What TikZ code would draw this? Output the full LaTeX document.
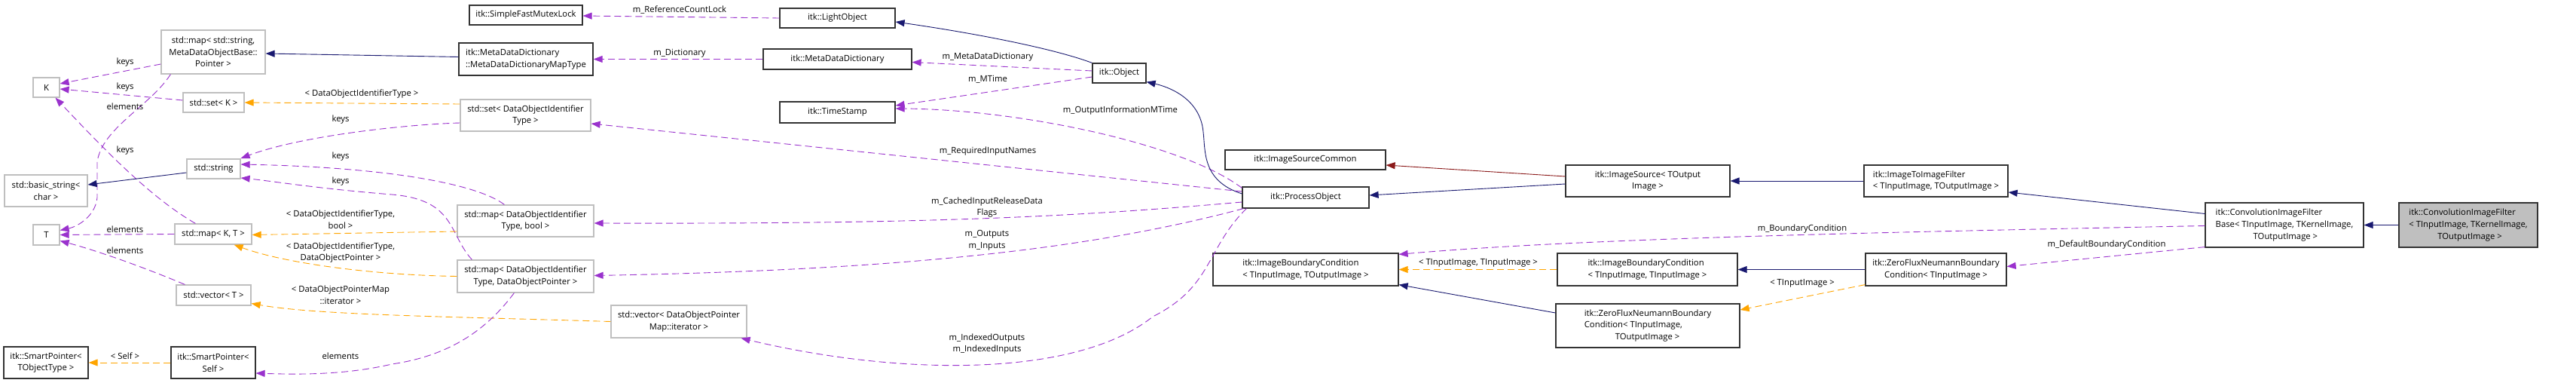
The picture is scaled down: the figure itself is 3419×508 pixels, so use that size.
\documentclass[tikz,border=0pt]{standalone}
\usepackage{fontspec}
\setmainfont{Open Sans}
\usetikzlibrary{arrows.meta, calc}
\definecolor{inhblue}{HTML}{191970}
\definecolor{privred}{HTML}{8B1A1A}
\definecolor{usepurple}{HTML}{9A32CD}
\definecolor{tmplorange}{HTML}{FFA500}
\definecolor{extgray}{HTML}{BFBFBF}
\definecolor{rootgray}{HTML}{BFBFBF}

\begin{document}
\begin{tikzpicture}[
  % pixel grid of the diagram, y runs downwards
  x=1pt, y=-1pt,
  font=\fontsize{11.3pt}{15.7pt}\selectfont,
  % box styles
  clsbox/.style={draw=black!80, fill=white, line width=1.2pt, inner sep=1pt, align=center},
  extbox/.style={clsbox, draw=extgray},
  rootbox/.style={clsbox, fill=rootgray},
  wh/.style 2 args={minimum width=#1pt, minimum height=#2pt},
  % connector styles
  inherit/.style={-{Triangle[length=12pt,width=9pt]}, draw=inhblue, line width=0.9pt},
  privinh/.style={inherit, draw=privred},
  usage/.style={-{Triangle[length=12pt,width=9pt]}, draw=usepurple, line width=0.9pt,
    dash pattern=on 9pt off 5pt},
  templ/.style={usage, draw=tmplorange},
  lbl/.style={inner sep=0pt, align=center}
]

\path[use as bounding box, fill=white] (0,0) rectangle (3419,508);

% ─── std containers and helpers (left part) ────────────────────────────────
\node[extbox, wh={35}{26}] (K) at (61.5,116) {K};
\node[extbox, wh={35}{27}] (T) at (61.5,311.5) {T};
\node[extbox, wh={110}{42}] (bstr) at (61,253) {std::basic\_string<\\char >};
\node[clsbox, wh={112}{42}] (spobj) at (61,481) {itk::SmartPointer<\\TObjectType >};

\node[extbox, wh={138}{58}] (mapstr) at (283,69)
  {std::map< std::string,\\MetaDataObjectBase::\\Pointer >};
\node[extbox, wh={81}{26}] (setk) at (283.5,136) {std::set< K >};
\node[extbox, wh={71}{26}] (str) at (283.5,224) {std::string};
\node[extbox, wh={102}{27}] (mapkt) at (283,310.5) {std::map< K, T >};
\node[extbox, wh={99}{27}] (vect) at (283.5,391.5) {std::vector< T >};
\node[clsbox, wh={112}{42}] (spself) at (283,481) {itk::SmartPointer<\\Self >};

% ─── second column ──────────────────────────────────────────────────────────
\node[clsbox, wh={150}{26}] (sfml) at (698,20) {itk::SimpleFastMutexLock};
\node[clsbox, wh={178}{43}, align=left] (mdmap) at (698,78.5)
  {itk::MetaDataDictionary\\::MetaDataDictionaryMapType};
\node[extbox, wh={173}{42}] (setdoi) at (697.5,153)
  {std::set< DataObjectIdentifier\\Type >};
\node[extbox, wh={181}{42}] (mapbool) at (697.5,293)
  {std::map< DataObjectIdentifier\\Type, bool >};
\node[extbox, wh={181}{43}] (mapdop) at (697.5,366.5)
  {std::map< DataObjectIdentifier\\Type, DataObjectPointer >};
\node[extbox, wh={180}{43}] (vecdop) at (901,426.5)
  {std::vector< DataObjectPointer\\Map::iterator >};

% ─── object core ────────────────────────────────────────────────────────────
\node[clsbox, wh={153}{26}] (light) at (1111.5,24) {itk::LightObject};
\node[clsbox, wh={197}{27}] (mdd) at (1111.5,78.5) {itk::MetaDataDictionary};
\node[clsbox, wh={153}{28}] (tstamp) at (1111.5,149) {itk::TimeStamp};
\node[clsbox, wh={71}{26}] (obj) at (1485.5,97) {itk::Object};
\node[clsbox, wh={213}{26}] (isc) at (1732.5,212) {itk::ImageSourceCommon};
\node[clsbox, wh={168}{28}] (po) at (1733,262) {itk::ProcessObject};
\node[clsbox, wh={246}{43}, align=left] (ibc) at (1733,357.5)
  {itk::ImageBoundaryCondition\\< TInputImage, TOutputImage >};

% ─── filters and boundary conditions (right part) ──────────────────────────
\node[clsbox, wh={218}{42}] (isrc) at (2187,240) {itk::ImageSource< TOutput\\Image >};
\node[clsbox, wh={239}{43}, align=left] (ibcin) at (2186.5,357.5)
  {itk::ImageBoundaryCondition\\< TInputImage, TInputImage >};
\node[clsbox, wh={244}{58}, align=left] (zfio) at (2187,432)
  {itk::ZeroFluxNeumannBoundary\\Condition< TInputImage,\\\hspace*{41pt}TOutputImage >};
\node[clsbox, wh={191}{42}, align=left] (i2i) at (2569.5,240)
  {itk::ImageToImageFilter\\< TInputImage, TOutputImage >};
\node[clsbox, wh={187}{43}] (zfin) at (2569.5,357.5)
  {itk::ZeroFluxNeumannBoundary\\Condition< TInputImage >};
\node[clsbox, wh={210}{59}, align=left] (cbase) at (3032,298.5)
  {itk::ConvolutionImageFilter\\Base< TInputImage, TKernelImage,\\\hspace*{50pt}TOutputImage >};
\node[rootbox, wh={184}{59}, align=left] (conv) at (3276,298.5)
  {itk::ConvolutionImageFilter\\< TInputImage, TKernelImage,\\\hspace*{38pt}TOutputImage >};

% ─── connectors: left part ─────────────────────────────────────────────────
\draw[usage] ($(mapstr.west)+(0,16)$) -- ($(K.east)+(0,-5)$);
\node[lbl] (l_keys_a) at (166,83) {keys};
\draw[usage] ($(mapstr.south west)+(13,0)$) .. controls (200,140) and (135,170) .. (129,215)
  -- (129,262) .. controls (127,285) and (105,300) .. ($(T.east)+(0,-6)$);
\node[lbl] (l_elem_a) at (166,141) {elements};
\draw[usage] ($(setk.west)+(0,-3)$) -- ($(K.east)+(0,2)$);
\node[lbl] (l_keys_b) at (166,116) {keys};
\draw[usage] ($(mapkt.north west)+(28,0)$) .. controls (200,262) and (140,200) .. ($(K.south)+(12,0)$);
\node[lbl] (l_keys_c) at (166,200) {keys};
\draw[usage] (mapkt.west) -- (T.east);
\node[lbl] (l_elem_b) at (166,304) {elements};
\draw[usage] ($(vect.north west)+(12,0)$) .. controls (180,350) and (120,330) .. ($(T.east)+(0,8)$);
\node[lbl] (l_elem_c) at (166,332) {elements};
\draw[inherit] ($(str.west)+(0,5)$) -- ($(bstr.east)+(0,-8)$);
\draw[templ] (spself.west) -- (spobj.east);
\node[lbl] (l_self) at (166,472) {< Self >};

% ─── connectors: second column ─────────────────────────────────────────────
\draw[templ] ($(setdoi.west)+(0,-15)$) -- (setk.east);
\node[lbl] (l_doit) at (480,125) {< DataObjectIdentifierType >};
\draw[usage] ($(setdoi.west)+(0,10)$) .. controls (540,165) and (400,180) .. ($(str.east)+(0,-14)$);
\node[lbl] (l_keys_d) at (452,159) {keys};
\draw[usage] ($(mapbool.north west)+(63,0)$) .. controls (635,245) and (520,222) .. ($(str.east)+(0,-6)$);
\node[lbl] (l_keys_e) at (452,208) {keys};
\draw[usage] ($(mapdop.north west)+(20,0)$) .. controls (595,310) and (605,265) .. (520,258)
  .. controls (420,250) and (360,240) .. ($(str.east)+(0,12)$);
\node[lbl] (l_keys_f) at (452,241) {keys};
\draw[templ] ($(mapbool.west)+(0,14)$) -- ($(mapkt.east)+(0,1)$);
\node[lbl] (l_bool) at (452,291) {< DataObjectIdentifierType,\\bool >};
\draw[templ] (mapdop.west) .. controls (500,365) and (380,350) .. ($(mapkt.south east)+(-24,0)$);
\node[lbl] (l_dop) at (452,335) {< DataObjectIdentifierType,\\DataObjectPointer >};
\draw[templ] (vecdop.west) .. controls (600,420) and (420,418) .. ($(vect.east)+(0,11)$);
\node[lbl] (l_iter) at (452,391) {< DataObjectPointerMap\\::iterator >};
\draw[usage] ($(mapdop.south west)+(76,0)$) .. controls (655,425) and (610,470) .. (520,483)
  .. controls (460,497) and (400,497) .. ($(spself.east)+(0,14)$);
\node[lbl] (l_elem_d) at (452,472) {elements};

% ─── connectors: object core ───────────────────────────────────────────────
\draw[usage] (light.west) -- ($(sfml.east)+(0,1)$);
\node[lbl] (l_lock) at (902,13) {m\_ReferenceCountLock};
\draw[usage] (mdd.west) -- (mdmap.east);
\node[lbl] (l_dict) at (902,71) {m\_Dictionary};
\draw[inherit] ($(mdmap.west)+(0,-3)$) -- ($(mapstr.east)+(0,2)$);
\draw[inherit] (obj.north west) .. controls (1400,65) and (1300,45) .. ($(light.east)+(0,5)$);
\draw[usage] ($(obj.west)+(0,-3)$) -- ($(mdd.east)+(0,4)$);
\node[lbl] (l_mdd) at (1311,76) {m\_MetaDataDictionary};
\draw[usage] ($(obj.west)+(0,5)$) -- ($(tstamp.east)+(0,-9)$);
\node[lbl] (l_mtime) at (1311,105) {m\_MTime};
\draw[usage] ($(po.north west)+(0,2)$) .. controls (1570,190) and (1350,145) .. ($(tstamp.east)+(0,-5)$);
\node[lbl] (l_outmtime) at (1487,147) {m\_OutputInformationMTime};
\draw[inherit] ($(po.west)+(0,-5)$) .. controls (1595,240) and (1600,200) .. (1597,175)
  .. controls (1593,130) and (1550,115) .. ($(obj.south east)+(0,-2)$);
\draw[usage] ($(po.west)+(0,-8)$) -- ($(setdoi.east)+(0,11)$);
\node[lbl] (l_req) at (1311,201) {m\_RequiredInputNames};
\draw[usage] ($(po.west)+(0,6)$) .. controls (1400,290) and (1200,297) .. ($(mapbool.east)+(0,3)$);
\node[lbl] (l_cached) at (1310,275) {m\_CachedInputReleaseData\\Flags};
\draw[usage] ($(po.south west)+(2,0)$) .. controls (1450,330) and (1200,358) .. ($(mapdop.east)+(0,-1)$);
\node[lbl] (l_io) at (1310,319) {m\_Outputs\\m\_Inputs};
\draw[usage] ($(po.south west)+(6,0)$) .. controls (1600,330) and (1610,380) .. (1530,420)
  .. controls (1430,500) and (1200,500) .. ($(vecdop.south east)+(-8,0)$);
\node[lbl] (l_indexed) at (1310,456) {m\_IndexedOutputs\\m\_IndexedInputs};

% ─── connectors: right part ────────────────────────────────────────────────
\draw[privinh] ($(isrc.west)+(0,-6)$) -- ($(isc.east)+(0,7)$);
\draw[inherit] ($(isrc.west)+(0,4)$) -- ($(po.east)+(0,-3)$);
\draw[inherit] (i2i.west) -- (isrc.east);
\draw[inherit] ($(cbase.west)+(0,-15)$) -- ($(i2i.east)+(0,15)$);
\draw[inherit] (conv.west) -- (cbase.east);
\draw[usage] ($(cbase.west)+(0,1)$) .. controls (2500,308) and (2100,316) .. ($(ibc.north east)+(0,2)$);
\node[lbl] (l_bc) at (2392,304) {m\_BoundaryCondition};
\draw[usage] ($(cbase.south west)+(0,-1)$) -- ($(zfin.east)+(0,-4)$);
\node[lbl] (l_defbc) at (2796,325) {m\_DefaultBoundaryCondition};
\draw[inherit] (zfin.west) -- (ibcin.east);
\draw[templ] ($(zfin.south west)+(0,-2)$) -- ($(zfio.east)+(0,-21)$);
\node[lbl] (l_tin) at (2392,376) {< TInputImage >};
\draw[templ] (ibcin.west) -- (ibc.east);
\node[lbl] (l_tintin) at (1962,349) {< TInputImage, TInputImage >};
\draw[inherit] ($(zfio.west)+(0,-17)$) -- ($(ibc.south east)+(0,-2)$);

\end{tikzpicture}
\end{document}
